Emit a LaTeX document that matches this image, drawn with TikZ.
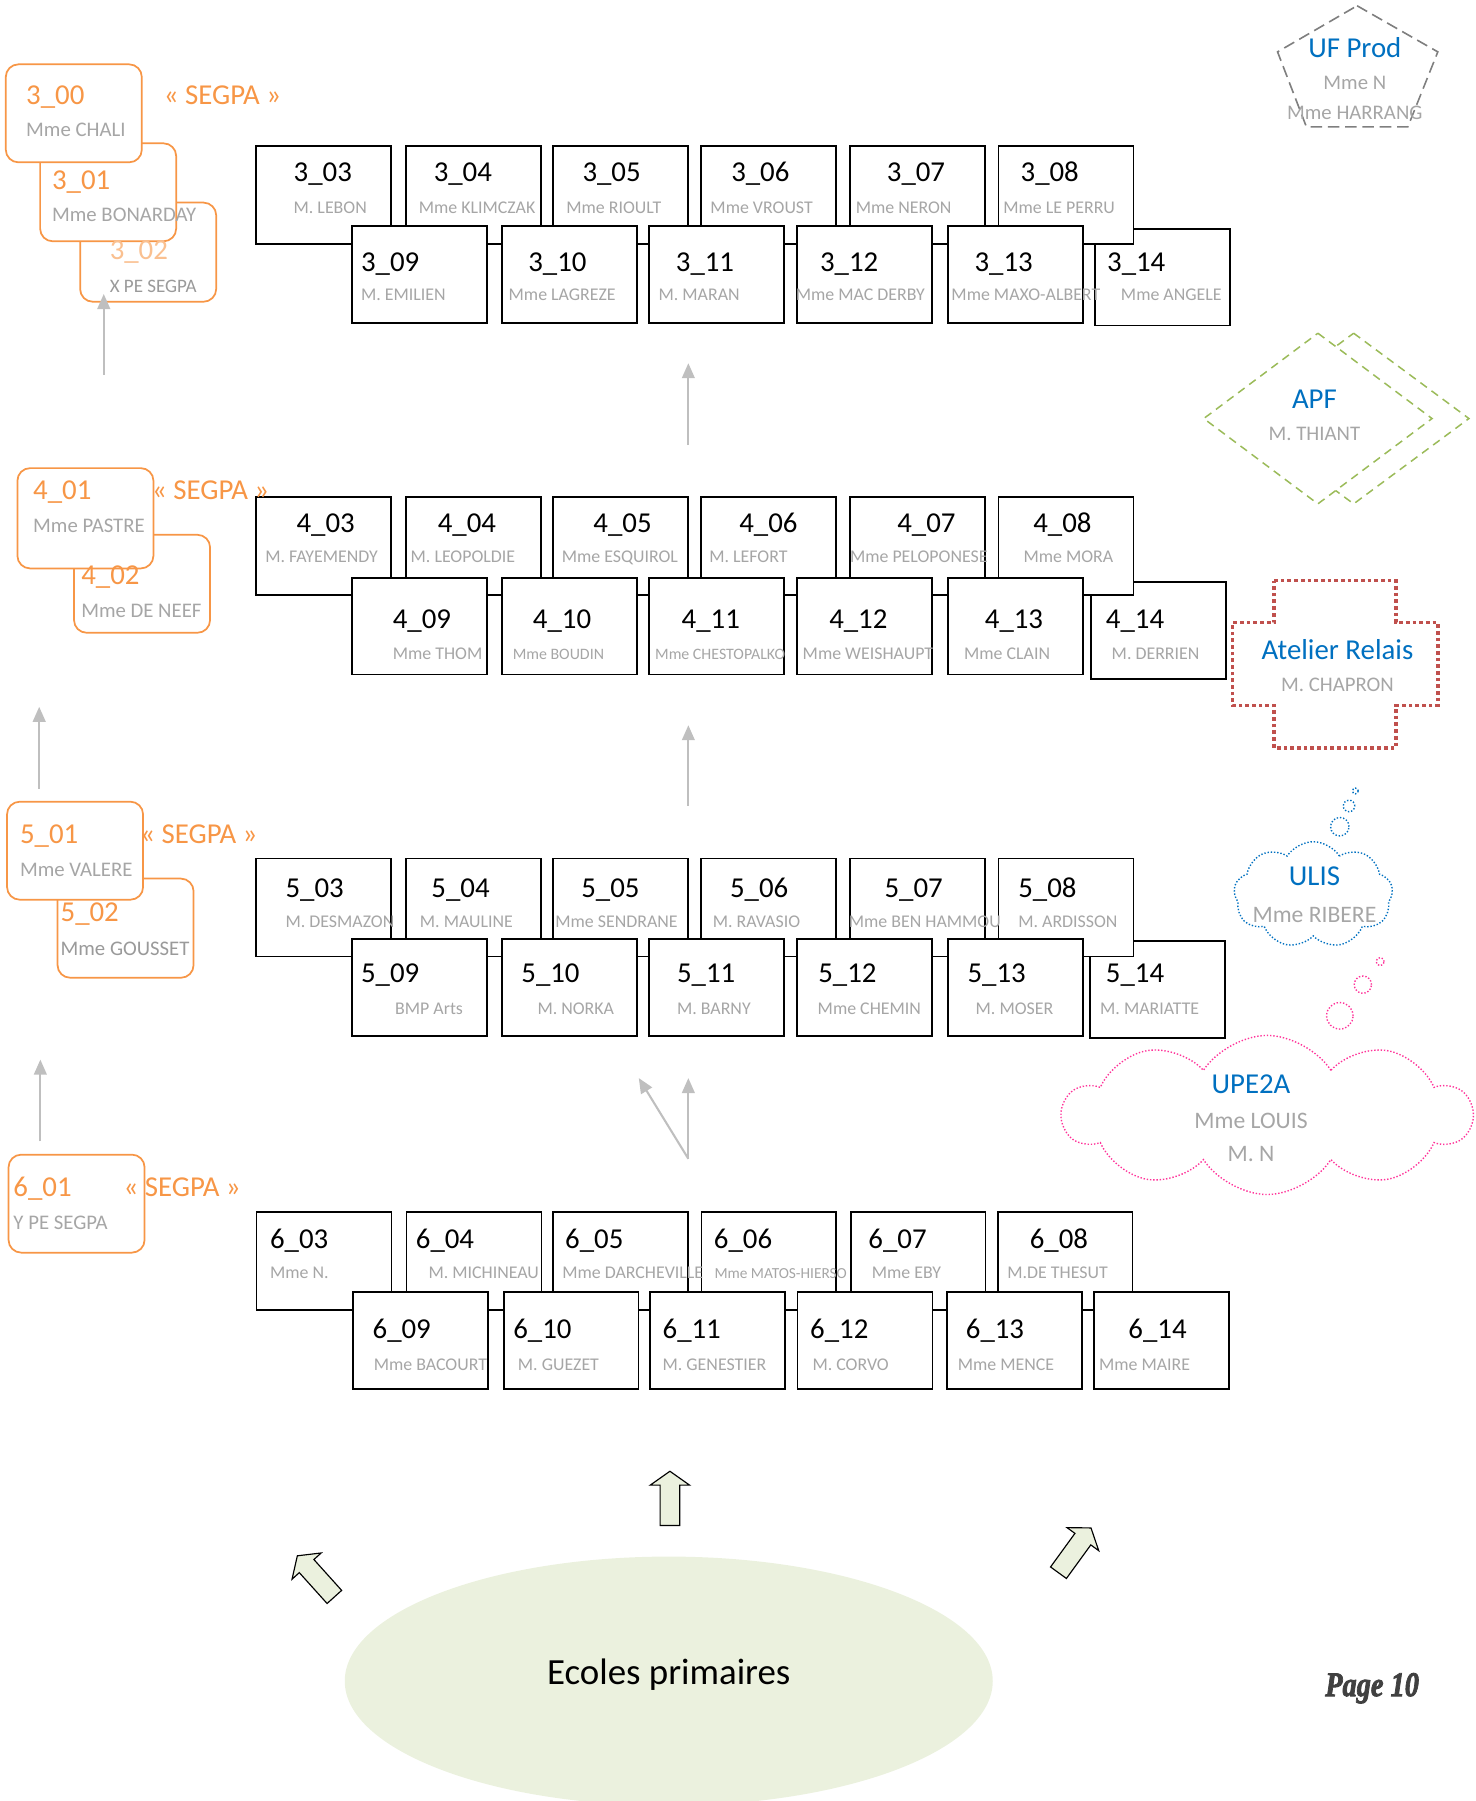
\documentclass[tikz,border=0pt]{standalone}
\usepackage{fontspec}
\setmainfont{Carlito}
\newfontfamily\pagefont[BoldItalicFeatures={FakeBold=2.5}]{Liberation Serif}
\usetikzlibrary{arrows.meta,shapes.symbols,shapes.geometric}
\definecolor{segpa}{HTML}{F79646}
\definecolor{segpalight}{HTML}{FAC090}
\definecolor{namegray}{HTML}{A6A6A6}
\definecolor{blurgray}{HTML}{9A9A9A}
\definecolor{arrgray}{HTML}{BFBFBF}
\definecolor{bluetxt}{HTML}{0070C0}
\definecolor{apfgreen}{HTML}{9BBB59}
\definecolor{relaisred}{HTML}{C0504D}
\definecolor{upepink}{HTML}{FF3399}
\definecolor{ecolefill}{HTML}{EBF1DE}
\definecolor{pentagray}{HTML}{7F7F7F}
\definecolor{pagegray}{HTML}{404040}
\newcommand\fsz[1]{\fontsize{#1}{#1}\selectfont}
\begin{document}
\begin{tikzpicture}[x=1pt,y=-1pt,
  cbox/.style={draw=black,line width=1.6pt,fill=white,minimum width=117pt,minimum height=85pt,anchor=north west,inner sep=0pt,outer sep=0pt},
  num/.style={anchor=base west,inner sep=0pt,font=\fsz{25}},
  nm/.style={anchor=base west,inner sep=0pt,text=namegray},
  sbox/.style={draw=segpa,line width=1.5pt,fill=white,rounded corners=11pt,minimum width=118pt,minimum height=85pt,anchor=north west,inner sep=0pt,outer sep=0pt},
  snum/.style={anchor=base west,inner sep=0pt,font=\fsz{25},text=segpa},
  snm/.style={anchor=base west,inner sep=0pt,font=\fsz{18},text=namegray},
  ctitle/.style={anchor=base,inner sep=0pt,font=\fsz{25},text=bluetxt},
  cname/.style={anchor=base,inner sep=0pt,font=\fsz{18},text=namegray},
  garrow/.style={draw=arrgray,line width=1.8pt,-{Triangle[length=13pt,width=11pt]}},
  blockarrow/.style={draw=black,line width=1pt,fill=ecolefill,line join=miter},
  pentaline/.style={draw=pentagray,line width=1.4pt,dash pattern=on 10pt off 5pt},
  apfline/.style={draw=apfgreen,line width=1.3pt,dash pattern=on 7pt off 5pt},
  relaisline/.style={draw=relaisred,line width=3.2pt,dash pattern=on 3.2pt off 2.6pt},
  ulisline/.style={draw=bluetxt,line width=1.2pt,dash pattern=on 1.2pt off 1.6pt},
  upeline/.style={draw=upepink,line width=1.2pt,dash pattern=on 1.2pt off 1.6pt},
]
\useasboundingbox (0,0) rectangle (1280,1562);

% ---------- ecoles primaires ----------
\node[ellipse,fill=ecolefill,minimum width=562pt,minimum height=216pt,inner sep=0pt] (ecoles) at (580,1458) {};
\node[anchor=base,inner sep=0pt,font=\fsz{32}] (ecolestxt) at (580,1461) {Ecoles primaires};
\node[anchor=base,inner sep=0pt,font=\pagefont\bfseries\itshape\fsz{30},text=pagegray] (page) at (1190,1471) {\scalebox{0.82}[1]{Page 10}};

% block arrows
\begin{scope}[shift={(581,1323)}]
  \draw[blockarrow] (-8.5,0) -- (-8.5,-35) -- (-17,-35) -- (0,-47) -- (17,-35) -- (8.5,-35) -- (8.5,0) -- cycle;
\end{scope}
\begin{scope}[shift={(290,1385)},rotate=42]
  \draw[blockarrow] (-8.5,0) -- (-8.5,-36) -- (-17,-36) -- (0,-48) -- (17,-36) -- (8.5,-36) -- (8.5,0) -- cycle;
\end{scope}
\begin{scope}[shift={(918,1364)},rotate=-36]
  \draw[blockarrow] (-8.5,0) -- (-8.5,-36) -- (-17,-36) -- (0,-48) -- (17,-36) -- (8.5,-36) -- (8.5,0) -- cycle;
\end{scope}

% ---------- row 3 ----------
\node[cbox,minimum height=84pt] (b314) at (949.6,198.3) {};
\foreach \i/\x in {03/222,04/352,05/479.5,06/608,07/737.5,08/866}
  \node[cbox] (b3\i) at (\x,126.5) {};
\foreach \i/\x in {09/305.5,10/435.6,11/562.8,12/691.1,13/822}
  \node[cbox,minimum height=84pt] (b3\i) at (\x,196) {};
\foreach \i/\nx/\mx/\s/\t in {03/254.5/254.5/15.5/M. LEBON,04/376/363/15.5/Mme KLIMCZAK,05/505/491/15.5/Mme RIOULT,06/634/616/15.5/Mme VROUST,07/769/742/15.5/Mme NERON,08/885/870/15.5/Mme LE PERRU}{
  \node[num] (n3\i) at (\nx,157.5) {3\_\i};
  \node[nm,font=\fsz{\s}] (m3\i) at (\mx,185) {\t};
}
\foreach \i/\nx/\mx/\s/\t in {09/313/313/15.5/M. EMILIEN,10/458/441/15.5/Mme LAGREZE,11/586/571/15.5/M. MARAN,12/711/690/15.5/Mme MAC DERBY,13/845/825/15.5/Mme MAXO-ALBERT,14/960/972/15.5/Mme ANGELE}{
  \node[num] (n3\i) at (\nx,235.5) {3\_\i};
  \node[nm,font=\fsz{\s}] (m3\i) at (\mx,261) {\t};
}

% ---------- row 4 ----------
\node[cbox,minimum height=84pt] (b414) at (946.3,504.8) {};
\foreach \i/\x in {03/222,04/352,05/479.5,06/608,07/737.5,08/866}
  \node[cbox] (b4\i) at (\x,431) {};
\foreach \i/\x in {09/305.5,10/435.6,11/562.8,12/691.1,13/822}
  \node[cbox,minimum height=84pt] (b4\i) at (\x,501) {};
\foreach \i/\nx/\mx/\s/\t in {03/257/230/15.5/M. FAYEMENDY,04/379.5/356/15.5/M. LEOPOLDIE,05/514.5/487/15.5/Mme ESQUIROL,06/641/615/15.5/M. LEFORT,07/778/737/15.5/Mme PELOPONESE,08/896/887.5/15.5/Mme MORA}{
  \node[num] (n4\i) at (\nx,462) {4\_\i};
  \node[nm,font=\fsz{\s}] (m4\i) at (\mx,487.5) {\t};
}
\foreach \i/\nx/\mx/\s/\t in {09/340.5/340.5/15.5/Mme THOM,10/462/444.5/13.8/Mme BOUDIN,11/591/568/13.8/Mme CHESTOPALKO,12/719/696/15.5/Mme WEISHAUPT,13/854/836/15.5/Mme CLAIN,14/959/964/15.5/M. DERRIEN}{
  \node[num] (n4\i) at (\nx,545.5) {4\_\i};
  \node[nm,font=\fsz{\s}] (m4\i) at (\mx,572) {\t};
}

% ---------- row 5 ----------
\node[cbox,minimum height=84pt] (b514) at (945.5,816.4) {};
\foreach \i/\x in {03/222,04/352,05/479.5,06/608,07/737.5,08/866}
  \node[cbox] (b5\i) at (\x,744.5) {};
\foreach \i/\x in {09/305.5,10/435.6,11/562.8,12/691.1,13/822}
  \node[cbox,minimum height=84pt] (b5\i) at (\x,814.3) {};
\foreach \i/\nx/\mx/\s/\t in {03/247.5/247.5/15.5/M. DESMAZON,04/374/364/15.5/M. MAULINE,05/504/481.5/15.5/Mme SENDRANE,06/633/618/15.5/M. RAVASIO,07/767/736/15.5/Mme BEN HAMMOU,08/883/883/15.5/M. ARDISSON}{
  \node[num] (n5\i) at (\nx,778) {5\_\i};
  \node[nm,font=\fsz{\s}] (m5\i) at (\mx,804) {\t};
}
\foreach \i/\nx/\mx/\s/\t in {09/313/342.5/15.5/BMP Arts,10/452/466/15.5/M. NORKA,11/587/587/15.5/M. BARNY,12/709.5/709/15.5/Mme CHEMIN,13/839/846/15.5/M. MOSER,14/959/954/15.5/M. MARIATTE}{
  \node[num] (n5\i) at (\nx,852) {5\_\i};
  \node[nm,font=\fsz{\s}] (m5\i) at (\mx,880) {\t};
}

% ---------- row 6 ----------
\foreach \i/\x in {03/222.5,04/352.6,05/479.5,06/608.4,07/737.7,08/865.2}
  \node[cbox] (b6\i) at (\x,1051.2) {};
\foreach \i/\x in {09/306.3,10/436.8,11/563.6,12/691.7,13/821.6,14/948.8}
  \node[cbox,minimum height=84pt] (b6\i) at (\x,1120.4) {};
\foreach \i/\nx/\mx/\s/\t in {03/234/234/15.5/Mme N.,04/360.5/371.5/15.5/M. MICHINEAU,05/490/487.5/15.5/Mme DARCHEVILLE,06/619/619.5/13.3/Mme MATOS-HIERSO,07/753/756/15.5/Mme EBY,08/893/873.5/15.5/M.DE THESUT}{
  \node[num] (n6\i) at (\nx,1082.5) {6\_\i};
  \node[nm,font=\fsz{\s}] (m6\i) at (\mx,1108.5) {\t};
}
\foreach \i/\nx/\mx/\s/\t in {09/323/324/15.5/Mme BACOURT,10/445/449/15.5/M. GUEZET,11/574.5/574.5/15.5/M. GENESTIER,12/702.5/704.5/15.5/M. CORVO,13/837.5/830.5/15.5/Mme MENCE,14/978.5/953/15.5/Mme MAIRE}{
  \node[num] (n6\i) at (\nx,1161) {6\_\i};
  \node[nm,font=\fsz{\s}] (m6\i) at (\mx,1188.5) {\t};
}

% ---------- SEGPA boxes ----------
\node[sbox,minimum height=86pt] (s302) at (69.5,175.7) {};
\node[sbox] (s301) at (34.8,124.3) {};
\node[sbox] (s300) at (5,55.8) {};
\node[snum] (t300) at (22.5,90.5) {3\_00};
\node[snm] (u300) at (22.5,118.5) {Mme CHALI};
\node[snum] (t301) at (45,164) {3\_01};
\node[snm] (u301) at (45,192) {Mme BONARDAY};
\node[snum,text=segpalight] (t302) at (95,225) {3\_02};
\node[snm,font=\fsz{16.5},text=blurgray] (u302) at (95,254) {X PE SEGPA};
\node[snum] (g3) at (142,90.5) {« SEGPA »};

\node[sbox] (s402) at (64.2,463.8) {};
\node[sbox,minimum height=87pt] (s401) at (15.1,406) {};
\node[snum] (t401) at (28.6,432.9) {4\_01};
\node[snm] (u401) at (28.6,461.5) {Mme PASTRE};
\node[snum] (t402) at (70.3,507.2) {4\_02};
\node[snm] (u402) at (70.3,535.2) {Mme DE NEEF};
\node[snum] (g4) at (131.7,432.9) {« SEGPA »};

\node[sbox,minimum height=86pt] (s502) at (49.9,762) {};
\node[sbox] (s501) at (6.1,695.3) {};
\node[snum] (t501) at (17.2,731.7) {5\_01};
\node[snm] (u501) at (17.2,760.6) {Mme VALERE};
\node[snum] (t502) at (52.4,799) {5\_02};
\node[snm,text=blurgray] (u502) at (52.4,828.8) {Mme GOUSSET};
\node[snum] (g5) at (121.5,731.7) {« SEGPA »};

\node[sbox] (s601) at (7.4,1001.4) {};
\node[snum] (t601) at (11.5,1038.1) {6\_01};
\node[snm] (u601) at (11.5,1065.9) {Y PE SEGPA};
\node[snum] (g6) at (107,1038.1) {« SEGPA »};

% ---------- gray arrows ----------
\coordinate (a1s) at (90,325);   \coordinate (a1e) at (90,255);
\coordinate (m1s) at (597,386);  \coordinate (m1e) at (597,315);
\coordinate (a2s) at (34,684);   \coordinate (a2e) at (34,613);
\coordinate (m2s) at (597,699);  \coordinate (m2e) at (597,629);
\coordinate (a3s) at (35,990);   \coordinate (a3e) at (35,919);
\coordinate (m3s) at (597,1005); \coordinate (m3e) at (597,935);
\coordinate (m4e) at (554,935);
\draw[garrow] (a1s) -- (a1e);
\draw[garrow] (m1s) -- (m1e);
\draw[garrow] (a2s) -- (a2e);
\draw[garrow] (m2s) -- (m2e);
\draw[garrow] (a3s) -- (a3e);
\draw[garrow] (m3s) -- (m3e);
\draw[garrow] (m3s) -- (m4e);

% ---------- UF Prod ----------
\draw[pentaline] (1177,5) -- (1247,45) -- (1221,110) -- (1133,110) -- (1108,45) -- cycle;
\node[ctitle] (ufprod) at (1175,49.7) {UF Prod};
\node[cname] (ufa) at (1175,78) {Mme N};
\node[cname] (ufb) at (1175,103.5) {Mme HARRANG};

% ---------- APF ----------
\draw[apfline] (1174,289) -- (1274,363) -- (1174,437) -- (1074,363) -- cycle;
\filldraw[apfline,fill=white] (1143,289) -- (1242,363) -- (1143,437) -- (1044,363) -- cycle;
\node[ctitle] (apf) at (1140,354.6) {APF};
\node[cname] (apfn) at (1140,382.3) {M. THIANT};

% ---------- Atelier Relais ----------
\draw[relaisline] (1105,503.5) -- (1210.5,503.5) -- (1210.5,540) -- (1247,540) -- (1247,612) -- (1210.5,612) -- (1210.5,648.5) -- (1105,648.5) -- (1105,612) -- (1069,612) -- (1069,540) -- (1105,540) -- cycle;
\node[ctitle] (relais) at (1160,571.6) {Atelier Relais};
\node[cname] (relaisn) at (1160,599.6) {M. CHAPRON};

% ---------- ULIS ----------
\node[cloud,cloud puffs=9,cloud puff arc=115,cloud ignores aspect,ulisline,minimum width=138pt,minimum height=92pt,inner sep=0pt] (ulis) at (1139,776) {};
\draw[ulisline] (1162,717) circle [radius=8pt];
\draw[ulisline] (1170,699) circle [radius=5pt];
\draw[ulisline] (1175.5,686) circle [radius=2.5pt];
\node[ctitle] (ulist) at (1140,768) {ULIS};
\node[cname,font=\fsz{20.5}] (ulisn) at (1140,800.5) {Mme RIBERE};

% ---------- UPE2A ----------
\node[cloud,cloud puffs=10,cloud puff arc=115,cloud ignores aspect,upeline,minimum width=354pt,minimum height=138pt,inner sep=0pt] (upe) at (1099,967) {};
\draw[upeline] (1162,881) circle [radius=11.5pt];
\draw[upeline] (1182,854) circle [radius=7.5pt];
\draw[upeline] (1197,834) circle [radius=3.5pt];
\node[ctitle] (upet) at (1085,948) {UPE2A};
\node[cname,font=\fsz{20.5}] (upea) at (1085,979) {Mme LOUIS};
\node[cname,font=\fsz{20.5}] (upeb) at (1085,1007) {M. N};
\end{tikzpicture}
\end{document}
